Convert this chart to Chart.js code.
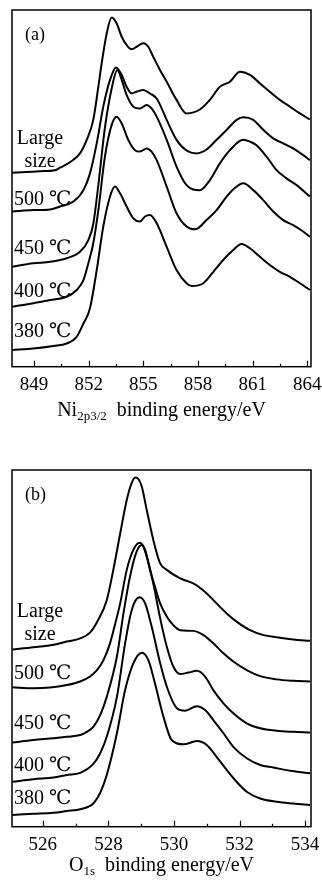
<!DOCTYPE html>
<html>
<head>
<meta charset="utf-8">
<script src="https://cdn.jsdelivr.net/npm/chart.js@4.4.1/dist/chart.umd.min.js"></script>
<style>
  body { margin: 0; background: #fff; width: 322px; height: 880px; overflow: hidden; font-family: "Liberation Serif", serif; }
  .panel { position: relative; width: 322px; height: 440px; }
  .panel canvas { position: absolute; left: 0; top: 0; }
  .xtitle { position: absolute; left: 12px; width: 299px; text-align: center; font-size: 20px; line-height: 20px; color: #000; white-space: nowrap; }
  .xtitle sub { font-size: 13px; line-height: 0; vertical-align: -4px; }
</style>
</head>
<body>
<div class="panel">
  <canvas id="chartNi" width="322" height="440"></canvas>
  <div class="xtitle" style="top:399px">Ni<sub>2p3/2</sub>&nbsp; binding energy/eV</div>
</div>
<div class="panel">
  <canvas id="chartO" width="322" height="440"></canvas>
  <div class="xtitle" style="top:414px">O<sub>1s</sub>&nbsp; binding energy/eV</div>
</div>
<script>
// nomes das amostras (de cima para baixo)
const sampleNames = ["Large\nsize", "500 ℃", "450 ℃", "400 ℃", "380 ℃"];

// eixo x - ticks
const niTicks = [849, 852, 855, 858, 861, 864];
const niMinorTicks = [850.5, 853.5, 856.5, 859.5, 862.5];
const oTicks = [526, 528, 530, 532, 534];
const oMinorTicks = [527, 529, 531, 533];

// (a) Ni 2p3/2 - energia (eV) e intensidade (u.a.)
const niLargeE = [847.79, 848.6, 849.33, 850.15, 850.43, 850.97, 851.52, 851.89, 852.25, 852.53, 852.71, 852.99, 853.26, 853.53, 853.81, 854.08, 854.36, 854.63, 855.0, 855.27, 855.54, 855.91, 856.28, 856.82, 857.37, 858.1, 858.65, 859.2, 859.75, 860.3, 860.85, 861.4, 861.94, 862.49, 863.04, 863.59, 864.14];
const niLargeI = [54.4, 54.6, 54.8, 55.1, 55.8, 57.3, 59.8, 63.6, 69.2, 78.5, 85.0, 93.5, 97.9, 96.3, 92.5, 90.2, 89.0, 89.7, 90.7, 89.7, 86.9, 83.2, 79.9, 74.8, 71.0, 72.1, 74.8, 78.5, 79.9, 82.7, 81.8, 79.4, 77.1, 74.8, 72.9, 71.0, 69.3];

const ni500E = [847.79, 848.96, 849.88, 850.43, 851.16, 851.71, 852.07, 852.44, 852.8, 853.17, 853.5, 853.81, 854.08, 854.36, 854.63, 855.0, 855.36, 855.73, 856.28, 856.82, 857.37, 857.92, 858.47, 859.02, 859.57, 860.12, 860.48, 861.03, 861.58, 862.13, 862.67, 863.22, 863.77, 864.14];
const ni500I = [43.5, 43.9, 44.1, 44.9, 46.3, 49.5, 54.2, 62.6, 72.9, 80.4, 83.9, 81.8, 78.5, 76.6, 77.1, 77.6, 76.6, 75.2, 69.2, 63.6, 60.6, 59.8, 60.9, 63.6, 66.4, 69.2, 69.9, 69.2, 66.4, 64.0, 62.6, 61.2, 59.3, 57.9];

const ni450E = [847.79, 848.96, 849.88, 850.79, 851.52, 851.98, 852.25, 852.53, 852.89, 853.26, 853.57, 853.81, 854.08, 854.45, 854.81, 855.18, 855.45, 855.73, 856.28, 856.82, 857.37, 858.1, 858.65, 859.2, 859.75, 860.48, 860.85, 861.21, 861.76, 862.31, 862.86, 863.41, 864.14];
const ni450I = [28.0, 29.0, 29.4, 30.4, 32.2, 35.5, 40.0, 51.0, 67.0, 78.0, 83.2, 80.4, 76.2, 72.9, 72.4, 73.4, 72.4, 70.1, 63.6, 56.1, 50.9, 49.5, 52.3, 57.0, 60.7, 63.6, 63.1, 62.1, 58.9, 55.1, 52.8, 50.9, 47.7];

const ni400E = [847.79, 848.96, 849.88, 850.79, 851.34, 851.71, 851.98, 852.25, 852.53, 852.89, 853.26, 853.53, 853.81, 854.17, 854.54, 854.81, 855.18, 855.45, 855.73, 856.28, 856.82, 857.37, 857.83, 858.47, 859.02, 859.57, 860.12, 860.48, 861.03, 861.58, 862.13, 862.67, 863.22, 863.77, 864.14];
const ni400I = [16.8, 17.8, 18.7, 19.6, 21.5, 24.3, 29.0, 34.6, 43.9, 58.9, 67.8, 70.1, 68.2, 63.6, 60.7, 60.3, 61.2, 60.3, 57.9, 50.5, 43.0, 39.3, 38.5, 41.1, 43.9, 47.7, 50.5, 51.4, 49.5, 46.7, 43.5, 41.1, 39.7, 37.9, 36.4];

const ni380E = [847.79, 848.96, 850.06, 850.79, 851.34, 851.71, 852.07, 852.44, 852.8, 853.17, 853.44, 853.72, 854.08, 854.45, 854.81, 855.09, 855.36, 855.73, 856.28, 856.82, 857.37, 857.65, 858.29, 858.84, 859.38, 859.93, 860.39, 860.85, 861.4, 861.94, 862.49, 863.04, 863.59, 864.14];
const ni380I = [4.7, 5.1, 5.8, 6.5, 8.4, 12.1, 16.4, 27.1, 39.3, 47.7, 50.5, 48.6, 44.9, 41.6, 40.7, 42.1, 42.5, 40.2, 33.6, 27.1, 23.4, 22.6, 23.4, 26.6, 29.9, 32.7, 34.4, 33.2, 30.8, 28.5, 26.6, 25.2, 23.4, 21.5];

// (b) O 1s - energia (eV) e intensidade (u.a.)
const oLargeE = [525.07, 525.72, 526.33, 526.73, 527.14, 527.44, 527.65, 527.95, 528.15, 528.36, 528.56, 528.71, 528.82, 528.92, 529.02, 529.17, 529.37, 529.58, 529.78, 530.19, 530.59, 531.0, 531.3, 531.61, 531.91, 532.32, 532.73, 533.13, 533.64, 534.15];
const oLargeI = [49.7, 50.3, 51.0, 51.9, 52.8, 54.4, 57.3, 63.5, 72.0, 82.2, 91.6, 96.3, 97.9, 97.4, 95.3, 88.8, 80.4, 73.8, 72.0, 69.6, 68.2, 65.4, 62.6, 59.8, 57.5, 55.1, 53.7, 53.1, 52.5, 52.1];

const o500E = [525.07, 525.72, 526.22, 526.73, 527.14, 527.44, 527.65, 527.85, 528.05, 528.21, 528.36, 528.56, 528.76, 528.95, 529.12, 529.27, 529.42, 529.58, 529.78, 529.98, 530.19, 530.59, 530.9, 531.2, 531.51, 531.81, 532.22, 532.63, 533.13, 533.64, 534.15];
const o500I = [39.1, 38.8, 39.0, 39.7, 40.7, 42.1, 43.9, 46.7, 51.4, 57.0, 62.6, 72.0, 77.6, 79.6, 77.6, 72.0, 67.3, 62.6, 58.9, 56.5, 55.1, 54.9, 53.7, 51.4, 48.6, 46.3, 43.9, 42.2, 41.3, 40.9, 40.7];

const o450E = [525.07, 525.72, 526.33, 526.73, 527.14, 527.34, 527.54, 527.75, 527.95, 528.26, 528.46, 528.66, 528.86, 529.02, 529.17, 529.37, 529.58, 529.78, 529.98, 530.19, 530.44, 530.7, 530.95, 531.2, 531.51, 531.81, 532.22, 532.63, 533.13, 533.64, 534.15];
const o450I = [23.6, 24.3, 24.8, 25.2, 25.7, 26.6, 28.0, 31.3, 36.4, 47.7, 59.8, 70.1, 77.1, 79.0, 75.7, 68.2, 58.4, 50.5, 44.9, 42.8, 43.2, 43.7, 42.1, 38.3, 34.6, 31.8, 29.0, 27.6, 26.9, 26.6, 26.4];

const o400E = [525.07, 525.72, 526.33, 526.73, 527.14, 527.54, 527.75, 527.95, 528.26, 528.51, 528.71, 528.95, 529.12, 529.32, 529.58, 529.78, 530.09, 530.34, 530.7, 530.95, 531.2, 531.51, 531.81, 532.22, 532.63, 533.03, 533.54, 534.15];
const o400I = [12.6, 13.3, 13.8, 14.5, 15.1, 17.6, 20.6, 25.2, 36.4, 51.4, 60.7, 64.3, 62.6, 56.1, 45.8, 39.3, 33.2, 32.5, 33.8, 32.7, 29.9, 26.2, 22.4, 19.2, 17.3, 16.6, 15.7, 15.0];

const o380E = [525.07, 525.72, 526.33, 526.73, 527.14, 527.39, 527.54, 527.75, 527.95, 528.26, 528.51, 528.76, 529.02, 529.22, 529.42, 529.68, 529.93, 530.29, 530.7, 531.0, 531.3, 531.61, 531.91, 532.22, 532.63, 533.13, 533.64, 534.15];
const o380I = [3.3, 3.6, 3.9, 4.4, 4.9, 5.6, 6.5, 9.5, 14.5, 26.2, 38.3, 45.8, 48.8, 46.7, 40.2, 30.8, 24.3, 23.1, 24.0, 22.9, 19.6, 15.9, 12.6, 9.8, 7.9, 7.0, 6.5, 6.1];

// junta energia e intensidade em pontos {x, y}
function pontos(energias, intensidades) {
  let lista = [];
  for (let i = 0; i < energias.length; i++) {
    lista.push({ x: energias[i], y: intensidades[i] });
  }
  return lista;
}

// moldura, ticks para dentro e nomes das curvas
const molduraPlugin = {
  id: "moldura",
  afterDraw(chart, args, opts) {
    const ctx = chart.ctx;
    const area = chart.chartArea;
    const escalaX = chart.scales.x;
    const escalaY = chart.scales.y;

    ctx.save();
    ctx.strokeStyle = "#000";
    ctx.lineWidth = 1.5;
    ctx.strokeRect(area.left, area.top, area.right - area.left, area.bottom - area.top);

    ctx.lineWidth = 1.2;
    ctx.beginPath();
    opts.major.forEach(function (v) {
      const px = Math.round(escalaX.getPixelForValue(v)) + 0.5;
      ctx.moveTo(px, area.bottom);
      ctx.lineTo(px, area.bottom - 6);
    });
    opts.minor.forEach(function (v) {
      const px = Math.round(escalaX.getPixelForValue(v)) + 0.5;
      ctx.moveTo(px, area.bottom);
      ctx.lineTo(px, area.bottom - 3);
    });
    ctx.stroke();

    ctx.fillStyle = "#000";
    ctx.textBaseline = "alphabetic";
    ctx.font = '18px "Liberation Serif", serif';
    ctx.textAlign = "left";
    ctx.fillText(opts.tag, area.left + 13, area.top + 30);

    ctx.font = '20px "Liberation Serif", "DejaVu Serif", serif';
    chart.data.datasets.forEach(function (ds, i) {
      const linhas = ds.label.split("\n");
      const base = escalaY.getPixelForValue(ds.data[0].y) - opts.gaps[i];
      if (linhas.length > 1) {
        ctx.textAlign = "center";
        for (let j = 0; j < linhas.length; j++) {
          ctx.fillText(linhas[j], area.left + 28, base - (linhas.length - 1 - j) * 23);
        }
      } else {
        ctx.textAlign = "left";
        ctx.fillText(linhas[0], area.left + 2, base);
      }
    });
    ctx.restore();
  },
};

function criarGrafico(canvasId, series, xMin, xMax, ticks, minor, tag, gaps, padTop, padBottom) {
  const datasets = [];
  for (let i = 0; i < series.length; i++) {
    datasets.push({
      label: sampleNames[i],
      data: series[i],
      borderColor: "#000",
      borderWidth: 2,
      pointRadius: 0,
      fill: false,
      cubicInterpolationMode: "monotone",
    });
  }

  return new Chart(document.getElementById(canvasId), {
    type: "line",
    data: { datasets: datasets },
    options: {
      responsive: false,
      animation: false,
      layout: { padding: { left: 12, right: 11, top: padTop, bottom: padBottom } },
      plugins: {
        legend: { display: false },
        tooltip: { enabled: false },
        moldura: { major: ticks, minor: minor, tag: tag, gaps: gaps },
      },
      scales: {
        x: {
          type: "linear",
          min: xMin,
          max: xMax,
          afterBuildTicks: function (escala) {
            escala.ticks = ticks.map(function (v) { return { value: v }; });
          },
          // altura fixa e sem folga lateral, para a area do grafico ficar igual a original
          afterFit: function (escala) {
            escala.height = 30;
            escala.paddingLeft = 0;
            escala.paddingRight = 0;
          },
          ticks: {
            color: "#000",
            padding: 7,
            autoSkip: false,
            maxRotation: 0,
            font: { family: '"Liberation Serif", serif', size: 19 },
          },
          grid: { display: false, drawTicks: false },
          border: { display: false },
        },
        y: {
          display: false,
          min: 0,
          max: 100,
        },
      },
    },
    plugins: [molduraPlugin],
  });
}

criarGrafico(
  "chartNi",
  [pontos(niLargeE, niLargeI), pontos(ni500E, ni500I), pontos(ni450E, ni450I), pontos(ni400E, ni400I), pontos(ni380E, ni380I)],
  847.79, 864.2, niTicks, niMinorTicks, "(a)", [6, 7, 13, 10, 13], 10, 43.3
);

criarGrafico(
  "chartO",
  [pontos(oLargeE, oLargeI), pontos(o500E, o500I), pontos(o450E, o450I), pontos(o400E, o400I), pontos(o380E, o380I)],
  525.06, 534.18, oTicks, oMinorTicks, "(b)", [9, 8, 14, 11, 11], 30, 23.3
);
</script>
</body>
</html>
